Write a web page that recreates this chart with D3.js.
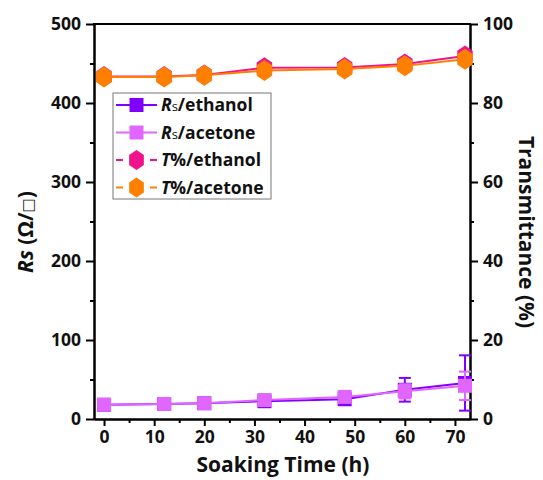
<!DOCTYPE html>
<html>
<head>
<meta charset="utf-8">
<script src="https://cdn.jsdelivr.net/npm/d3@7"></script>
<style>
  html, body { margin: 0; padding: 0; background: #fff; }
  svg text { font-family: "Open Sans", "DejaVu Sans", sans-serif; font-weight: bold; fill: #111; }
</style>
</head>
<body>
<svg id="chart" width="543" height="480"></svg>
<script>
// Soaking time (h)
const hours = [0, 12, 20, 32, 48, 60, 72];

// Sheet resistance Rs (Ω/□) with error bars
const rsEthanol    = [18, 19, 20, 22.5, 25, 37, 45.6];
const rsEthanolErr = [3, 3, 3, 5, 6, 15, 35];
const rsAcetone    = [18, 19, 20, 24, 28, 35, 42];
const rsAcetoneErr = [4, 3, 3, 4, 5, 9, 18];

// Transmittance (%)
const tEthanol = [86.7, 86.7, 87.1, 88.9, 89.0, 89.9, 91.9];
const tAcetone = [86.6, 86.6, 87.0, 88.2, 88.6, 89.4, 91.1];

const xTicks = [0, 10, 20, 30, 40, 50, 60, 70];
const rsTicks = [0, 100, 200, 300, 400, 500];
const tTicks = [0, 20, 40, 60, 80, 100];

const colors = {
  rsEthanol: "#7f00ff",
  rsAcetone: "#e066ff",
  tEthanol: "#f0148c",
  tAcetone: "#ff8000"
};

const svg = d3.select("#chart");
const plotLeft = 94, plotRight = 470, plotTop = 24, plotBottom = 419;

const x = d3.scaleLinear().domain([-2, 73]).range([plotLeft, plotRight]);
const yL = d3.scaleLinear().domain([0, 500]).range([plotBottom, plotTop]);
const yR = d3.scaleLinear().domain([0, 100]).range([plotBottom, plotTop]);

// Axes: major ticks labelled, minor ticks unlabelled
function styleAxis(g) {
  g.selectAll("path.domain").attr("stroke", "#000").attr("stroke-width", 2);
  g.selectAll(".tick line").attr("stroke", "#000").attr("stroke-width", 2);
  g.selectAll(".tick text").style("font-size", "17.5px");
}

const xMinor = d3.range(5, 71, 10);
svg.append("g").attr("transform", `translate(0,${plotBottom})`)
  .call(d3.axisBottom(x).tickValues(xMinor).tickSize(4).tickFormat("").tickSizeOuter(0))
  .call(styleAxis);
svg.append("g").attr("transform", `translate(0,${plotBottom})`)
  .call(d3.axisBottom(x).tickValues(xTicks).tickSize(7).tickPadding(5).tickSizeOuter(0))
  .call(styleAxis);

svg.append("g").attr("transform", `translate(${plotLeft},0)`)
  .call(d3.axisLeft(yL).tickValues(d3.range(50, 500, 100)).tickSize(4).tickFormat("").tickSizeOuter(0))
  .call(styleAxis);
svg.append("g").attr("transform", `translate(${plotLeft},0)`)
  .call(d3.axisLeft(yL).tickValues(rsTicks).tickSize(8).tickPadding(5).tickSizeOuter(0))
  .call(styleAxis);

svg.append("g").attr("transform", `translate(${plotRight},0)`)
  .call(d3.axisRight(yR).tickValues(d3.range(10, 100, 20)).tickSize(4).tickFormat("").tickSizeOuter(0))
  .call(styleAxis);
svg.append("g").attr("transform", `translate(${plotRight},0)`)
  .call(d3.axisRight(yR).tickValues(tTicks).tickSize(8).tickPadding(5).tickSizeOuter(0))
  .call(styleAxis);

// top frame line
svg.append("line").attr("x1", plotLeft - 1).attr("x2", plotRight + 1)
  .attr("y1", plotTop).attr("y2", plotTop)
  .attr("stroke", "#000").attr("stroke-width", 2);

// Axis titles
const ylab = svg.append("text")
  .attr("transform", `translate(33,232) rotate(-90)`)
  .attr("text-anchor", "middle").style("font-size", "21px");
ylab.append("tspan").style("font-style", "italic").text("Rs");
ylab.append("tspan").text(" (Ω/");
ylab.append("tspan").style("font-size", "15px").style("font-weight", "normal").text("□");
ylab.append("tspan").text(")");

svg.append("text")
  .attr("transform", `translate(519,232) rotate(90)`)
  .attr("text-anchor", "middle").style("font-size", "21px")
  .text("Transmittance (%)");

svg.append("text")
  .attr("x", (plotLeft + plotRight) / 2 + 1).attr("y", 472)
  .attr("text-anchor", "middle").style("font-size", "21px")
  .text("Soaking Time (h)");

const line = (ys, scale) => d3.line().x((d, i) => x(hours[i])).y(d => scale(d))(ys);

// hexagon path (pointy top), slightly narrower than tall
function hexPath(r) {
  const pts = d3.range(6).map(k => {
    const a = Math.PI / 2 + k * Math.PI / 3;
    return [r * 0.85 * Math.cos(a), -r * Math.sin(a)];
  });
  return "M" + pts.map(p => p.join(",")).join("L") + "Z";
}

function drawRs(vals, errs, color) {
  const g = svg.append("g");
  g.append("path").attr("d", line(vals, yL)).attr("fill", "none")
    .attr("stroke", color).attr("stroke-width", 2);
  vals.forEach((v, i) => {
    const cx = x(hours[i]);
    const y1 = yL(v + errs[i]), y2 = yL(v - errs[i]);
    g.append("line").attr("x1", cx).attr("x2", cx).attr("y1", y1).attr("y2", y2)
      .attr("stroke", color).attr("stroke-width", 2);
    [y1, y2].forEach(yy => g.append("line").attr("x1", cx - 6).attr("x2", cx + 6)
      .attr("y1", yy).attr("y2", yy).attr("stroke", color).attr("stroke-width", 2));
    g.append("rect").attr("x", cx - 7).attr("y", yL(v) - 7).attr("width", 14).attr("height", 14)
      .attr("fill", color);
  });
}

function drawT(vals, color) {
  const g = svg.append("g");
  g.append("path").attr("d", line(vals, yR)).attr("fill", "none")
    .attr("stroke", color).attr("stroke-width", 2);
  vals.forEach((v, i) => {
    g.append("path").attr("d", hexPath(10.5))
      .attr("transform", `translate(${x(hours[i])},${yR(v)})`)
      .attr("fill", color);
  });
}

drawRs(rsEthanol, rsEthanolErr, colors.rsEthanol);
drawRs(rsAcetone, rsAcetoneErr, colors.rsAcetone);
drawT(tEthanol, colors.tEthanol);
drawT(tAcetone, colors.tAcetone);

// Legend
const legendItems = [
  { sym: "rect", color: colors.rsEthanol, main: "R", sub: "s", rest: "/ethanol" },
  { sym: "rect", color: colors.rsAcetone, main: "R", sub: "s", rest: "/acetone" },
  { sym: "hex", color: colors.tEthanol, main: "T", sub: "", rest: "%/ethanol" },
  { sym: "hex", color: colors.tAcetone, main: "T", sub: "", rest: "%/acetone" }
];
const lg = svg.append("g");
lg.append("rect").attr("x", 113).attr("y", 93).attr("width", 158).attr("height", 106)
  .attr("fill", "#fff").attr("stroke", "#777").attr("stroke-width", 1);
legendItems.forEach((d, i) => {
  const cy = 105 + i * 27.5;
  lg.append("line").attr("x1", 116).attr("x2", 157).attr("y1", cy).attr("y2", cy)
    .attr("stroke", d.color).attr("stroke-width", 2)
    .attr("stroke-dasharray", d.sym === "hex" ? "7,27,7" : null);
  if (d.sym === "rect") {
    lg.append("rect").attr("x", 136.5 - 7).attr("y", cy - 7).attr("width", 14).attr("height", 14)
      .attr("fill", d.color);
  } else {
    lg.append("path").attr("d", hexPath(10)).attr("transform", `translate(136.5,${cy})`)
      .attr("fill", d.color);
  }
  const t = lg.append("text").attr("x", 161).attr("y", cy + 6).style("font-size", "17.5px");
  t.append("tspan").style("font-style", "italic").text(d.main);
  if (d.sub) t.append("tspan").style("font-size", "13px").style("font-weight", "normal").text(d.sub);
  t.append("tspan").text(d.rest);
});
</script>
</body>
</html>
